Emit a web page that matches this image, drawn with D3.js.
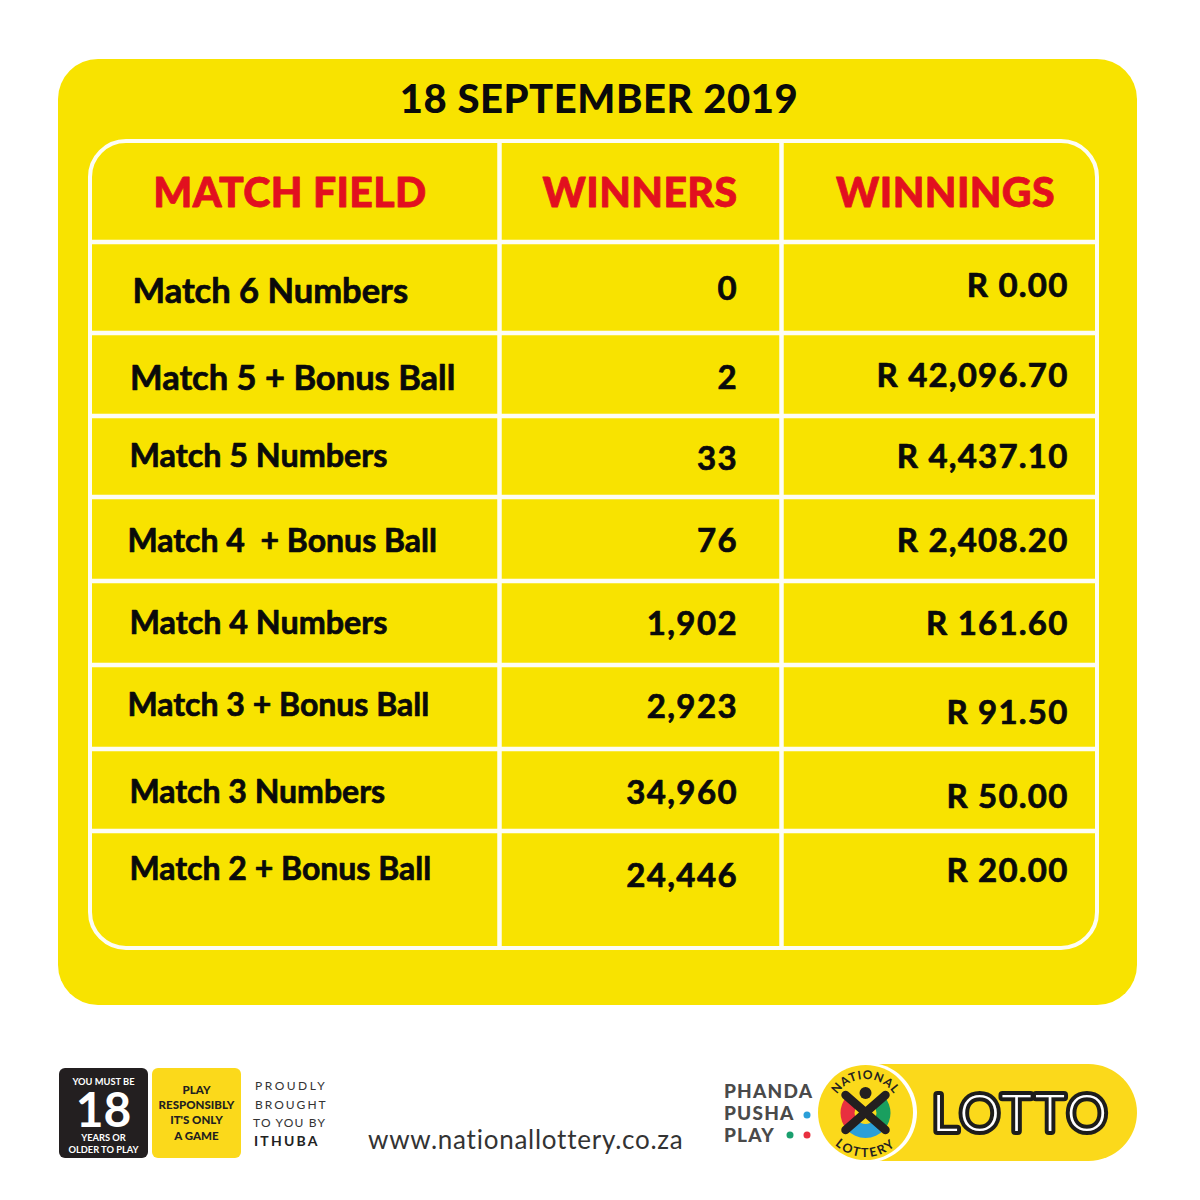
<!DOCTYPE html>
<html><head><meta charset="utf-8">
<style>html,body{margin:0;padding:0;background:#fff}svg{display:block}text{font-family:Lato,"Noto Sans",sans-serif}</style>
<script src="https://cdn.jsdelivr.net/npm/d3@7/dist/d3.min.js"></script>
</head><body><div id="c"></div>
<script>
const title = "18 SEPTEMBER 2019";
const headers = ["MATCH FIELD","WINNERS","WINNINGS"];
const matchField = ["Match 6 Numbers","Match 5 + Bonus Ball","Match 5 Numbers","Match 4  + Bonus Ball","Match 4 Numbers","Match 3 + Bonus Ball","Match 3 Numbers","Match 2 + Bonus Ball"];
const winners = ["0","2","33","76","1,902","2,923","34,960","24,446"];
const winnings = ["R 0.00","R 42,096.70","R 4,437.10","R 2,408.20","R 161.60","R 91.50","R 50.00","R 20.00"];

// layout (positions only)
const rowLines = [242,333,416,497,581,665,749,831];
const colLines = [499.5,781.5];
const fieldX = [132.5,130,129.5,127.5,129.5,127.5,129.5,129.5];
const fieldY = [289,376,454,539,621,703,790,867];
const fieldSize = [34.5,34.5,32.3,32,32.3,32,32,32];
const winnersY = [287,376,457,539,622,705,791,874];
const winningsY = [284,374,455,539,622,711,795,869];
const YEL="#f8e300", RED="#e2101f", WHITE="#fdfdf5", PILL="#fbd91b", INK="#231f20";

const svg=d3.select("#c").append("svg").attr("width",1200).attr("height",1200);
const rect=(x,y,w,h,r,f,s,sw)=>svg.append("rect").attr("x",x).attr("y",y).attr("width",w).attr("height",h).attr("rx",r).attr("fill",f).attr("stroke",s||"none").attr("stroke-width",sw||0);
const text=(t,x,y,size,weight,fill,anchor,extra)=>{const e=svg.append("text").attr("x",x).attr("y",y).attr("font-size",size).attr("font-weight",weight).attr("fill",fill).attr("text-anchor",anchor||"start").attr("dominant-baseline","central").style("white-space","pre").text(t);
 if(extra)Object.entries(extra).forEach(([k,v])=>e.attr(k,v));return e;};

rect(58,59,1079,946,40,YEL);
text(title,599,98,40,900,"#0a0a0a","middle",{"letter-spacing":0.55});

// table grid
svg.append("g").selectAll("line").data(rowLines).join("line").attr("x1",91).attr("x2",1099).attr("y1",d=>d).attr("y2",d=>d).attr("stroke",WHITE).attr("stroke-width",4.5);
svg.append("g").selectAll("line").data(colLines).join("line").attr("x1",d=>d).attr("x2",d=>d).attr("y1",141).attr("y2",947).attr("stroke",WHITE).attr("stroke-width",4.5);
rect(90,141,1007,807,36,"none",WHITE,4);

// headers
const headX=[290,640,945.5];
svg.append("g").selectAll("text").data(headers).join("text").attr("x",(d,i)=>headX[i]).attr("y",191).attr("text-anchor","middle").attr("dominant-baseline","central").attr("font-size",41).attr("font-weight",900).attr("fill",RED).attr("letter-spacing",0.4).attr("stroke",RED).attr("stroke-width",0.8).attr("stroke-linejoin","round").text(d=>d);

// rows
const tsize=33;
const bold=sel=>sel.attr("dominant-baseline","central").attr("font-weight",700).attr("fill","#0a0a0a").attr("stroke","#0a0a0a").attr("stroke-width",0.7).attr("stroke-linejoin","round").style("white-space","pre").text(d=>d);
bold(svg.append("g").selectAll("text").data(matchField).join("text").attr("x",(d,i)=>fieldX[i]).attr("y",(d,i)=>fieldY[i]).attr("font-size",(d,i)=>fieldSize[i]));
bold(svg.append("g").selectAll("text").data(winners).join("text").attr("x",738).attr("y",(d,i)=>winnersY[i]).attr("text-anchor","end").attr("font-size",tsize).attr("letter-spacing",1.4));
bold(svg.append("g").selectAll("text").data(winnings).join("text").attr("x",1068.5).attr("y",(d,i)=>winningsY[i]).attr("text-anchor","end").attr("font-size",tsize).attr("letter-spacing",1.2));

// footer: age badge
rect(59,1068,89,90,6,INK);
text("YOU MUST BE",103.5,1081,9.3,700,"#fff","middle");
text("18",103.5,1108.5,48,700,"#fff","middle");
text("YEARS OR",103.5,1137,9.3,700,"#fff","middle");
text("OLDER TO PLAY",103.5,1149,9.3,700,"#fff","middle");
// play responsibly
rect(152,1068,89,90,6,PILL);
["PLAY","RESPONSIBLY","IT'S ONLY","A GAME"].forEach((t,i)=>text(t,196.5,1089.5+i*15.2,11.5,900,INK,"middle"));
// ithuba
[["PROUDLY",255,1085,2.5],["BROUGHT",255,1104,2],["TO YOU BY",253,1122,1.2]].forEach(d=>text(d[0],d[1],d[2],12,400,"#333","start",{"letter-spacing":d[3]}));
text("ITHUBA",254,1140,14,700,"#222","start",{"letter-spacing":2.2});
text("www.nationallottery.co.za",368,1139,26,400,"#333","start",{"letter-spacing":0.75});

// phanda pusha play
[["PHANDA",1090.5],["PUSHA",1112.5],["PLAY",1134.5]].forEach(d=>text(d[0],724,d[1],19,900,"#4a4a4a","start",{"letter-spacing":1.2}));
const dots=[[807,1115,"#2b9fd8"],[790,1135,"#1a9f6e"],[807,1135,"#e8303f"]];
svg.append("g").selectAll("circle").data(dots).join("circle").attr("cx",d=>d[0]).attr("cy",d=>d[1]).attr("r",3.5).attr("fill",d=>d[2]);

// lotto pill
rect(835,1064,302,97,48.5,PILL);
svg.append("circle").attr("cx",867).attr("cy",1112.5).attr("r",50).attr("fill","#fff");
svg.append("circle").attr("cx",865.5).attr("cy",1112.5).attr("r",47.5).attr("fill",PILL);
// logo wedges
const cx=865.5,cy=1113;
const arc=d3.arc().innerRadius(11).outerRadius(25);
const wedges=[[0.85,2.29,"#1a9f5f"],[2.29,3.99,"#2b9fd8"],[3.99,5.43,"#e8303f"]];
svg.append("g").attr("transform",`translate(${cx},${cy})`).selectAll("path").data(wedges).join("path").attr("d",d=>arc({startAngle:d[0],endAngle:d[1]})).attr("fill",d=>d[2]);
const k=[[-20,-18,20,17],[20,-18,-20,17]];
svg.append("g").selectAll("line").data(k).join("line").attr("x1",d=>cx+d[0]).attr("y1",d=>cy+d[1]).attr("x2",d=>cx+d[2]).attr("y2",d=>cy+d[3]).attr("stroke",INK).attr("stroke-width",8.5).attr("stroke-linecap","round");
svg.append("circle").attr("cx",cx).attr("cy",cy-20).attr("r",6).attr("fill",INK);
// curved text
const defs=svg.append("defs");
defs.append("path").attr("id","arcTop").attr("d",`M${cx-34},${cy} A34,34 0 0 1 ${cx+34},${cy}`);
defs.append("path").attr("id","arcBot").attr("d",`M${cx-44},${cy} A44,44 0 0 0 ${cx+44},${cy}`);
svg.append("text").attr("font-size",12).attr("font-weight",700).attr("fill",INK).attr("letter-spacing",0.8).append("textPath").attr("href","#arcTop").attr("startOffset","50%").attr("text-anchor","middle").text("NATIONAL");
svg.append("text").attr("font-size",12.5).attr("font-weight",700).attr("fill",INK).attr("letter-spacing",2).append("textPath").attr("href","#arcBot").attr("startOffset","50%").attr("text-anchor","middle").text("LOTTERY");
// LOTTO wordmark
text("LOTTO",1021.5,1111.5,51,300,"#1d1d1b","middle",{"stroke":"#1d1d1b","stroke-width":8,"stroke-linejoin":"round","letter-spacing":4});
text("LOTTO",1021.5,1111.5,51,300,"#fff","middle",{"letter-spacing":4});
</script></body></html>
